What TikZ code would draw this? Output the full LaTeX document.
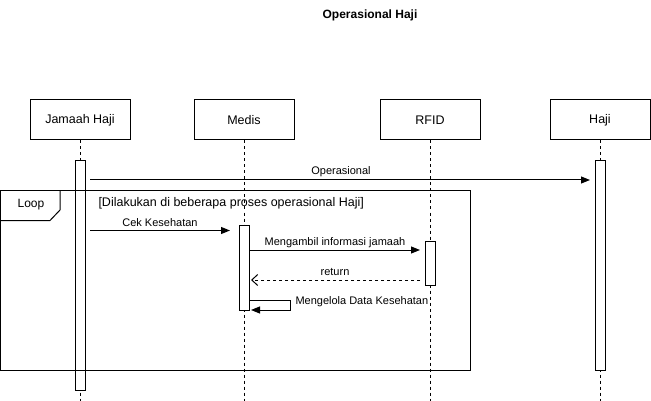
\documentclass[tikz,border=0pt]{standalone}
\usepackage{fontspec}
\setmainfont{Liberation Sans}
\usetikzlibrary{arrows.meta}

\tikzset{
  actor/.style={draw, rectangle, minimum width=100pt, minimum height=40pt, inner sep=0pt, font=\fontsize{12.5}{14}\selectfont},
  life/.style={dash pattern=on 3pt off 3pt, line width=0.8pt},
  act/.style={draw, fill=white, rectangle, anchor=north, minimum width=10pt, inner sep=0pt},
  msg/.style={font=\fontsize{11}{13}\selectfont, inner sep=0pt},
  back/.style={dash pattern=on 3pt off 3pt, -{Straight Barb[length=6pt,width=11pt]}}
}

\begin{document}
\begin{tikzpicture}[x=1pt, y=-1pt, line width=1pt, >={Triangle[length=9pt,width=7pt]}]
\useasboundingbox (0,0) rectangle (651,401);

\node(T) at (370,15)[font=\bfseries\fontsize{12}{14}\selectfont]{Operasional Haji};

\node(J) at (80,120)[actor]{Jamaah Haji};
\node(M) at (244,120)[actor]{Medis};
\node(R) at (430,120)[actor]{RFID};
\node(H) at (600,120)[actor]{Haji};

\draw[life](J.south)--(80,401);
\draw[life](M.south)--(244,401);
\draw[life](R.south)--(430,401);
\draw[life](H.south)--(600,401);

\node(aJ) at (80,160)[act, minimum height=230pt]{};
\node(aH) at (600,160)[act, minimum height=210pt]{};
\node(aM) at (244,225)[act, minimum height=85pt]{};
\node(aR) at (430,240.5)[act, minimum height=44.5pt]{};

% loop frame
\draw(0.5,190.5) rectangle (470,370);
\draw(0.5,220.5)--(50,220.5)--(60,210)--(60,190.5);
\node(L) at (31,205)[font=\fontsize{12}{14}\selectfont]{Loop};
\node(G) at (98,203.5)[anchor=west, inner sep=0pt, font=\fontsize{12.5}{14}\selectfont]{[Dilakukan di beberapa proses operasional Haji]};

\coordinate(op1) at (90,180);
\coordinate(op2) at (590,180);
\draw[->](op1)--(op2);
\node(opT) at (341,172)[msg]{Operasional};

\coordinate(ck1) at (90,230.5);
\coordinate(ck2) at (230,230.5);
\draw[->](ck1)--(ck2);
\node(ckT) at (160,222.5)[msg]{Cek Kesehatan};

\coordinate(ma1) at (250,250);
\coordinate(ma2) at (420,250);
\draw[->](ma1)--(ma2);
\node(maT) at (335,242.5)[msg]{Mengambil informasi jamaah};

\coordinate(rt1) at (420,280);
\coordinate(rt2) at (251,280);
\draw[back](rt1)--(rt2);
\node(rtT) at (335,272)[msg]{return};

\coordinate(sm1) at (249,300);
\coordinate(sm2) at (251,310);
\draw[->](sm1)-|(290,310)--(sm2);
\node(smT) at (295,301.5)[msg, anchor=west]{Mengelola Data Kesehatan};

\end{tikzpicture}
\end{document}
